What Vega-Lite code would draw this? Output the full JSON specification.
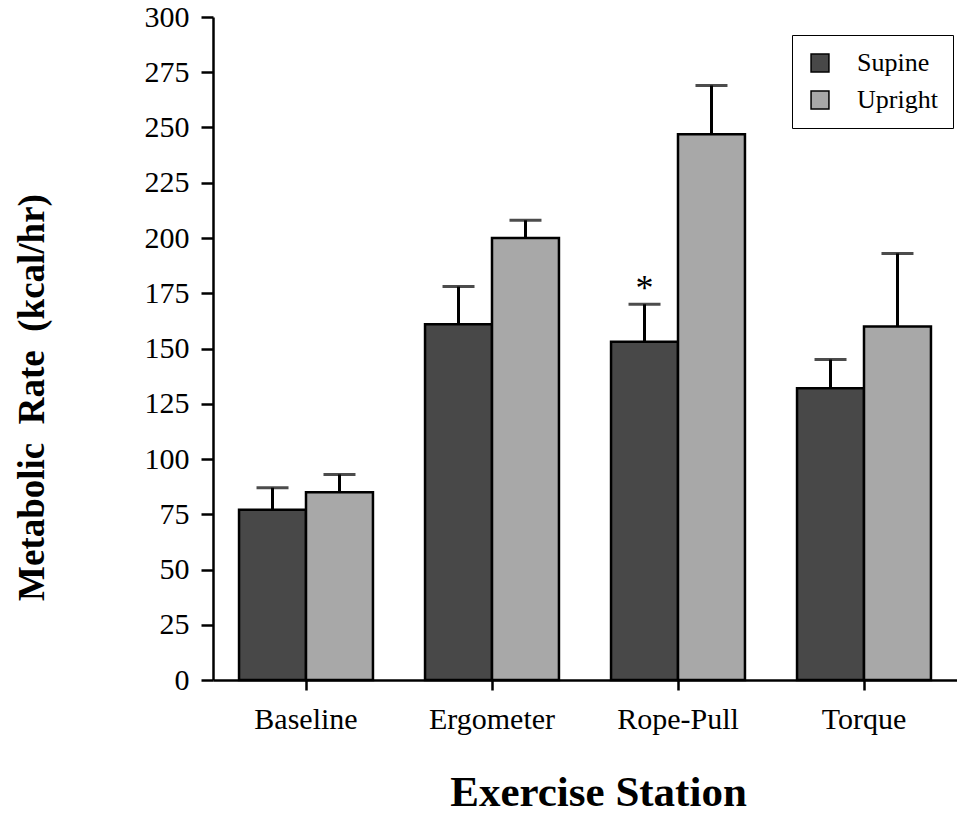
{
  "$schema": "https://vega.github.io/schema/vega-lite/v6.json",
  "width": 744,
  "height": 663,
  "autosize": {"type": "none"},
  "padding": {"left": 213, "top": 17, "right": 0, "bottom": 149},
  "background": "white",
  "config": {
    "view": {"stroke": null},
    "font": "Liberation Serif",
    "axis": {
      "domainColor": "black",
      "domainWidth": 2.5,
      "tickColor": "black",
      "tickWidth": 2.5,
      "labelColor": "black",
      "labelFont": "Liberation Serif",
      "labelFontSize": 30,
      "titleFont": "Liberation Serif",
      "titleFontWeight": "bold",
      "titleColor": "black",
      "grid": false
    }
  },
  "data": {
    "values": [
      {"station": "Baseline", "posture": "Supine", "value": 77, "err": 87, "star": ""},
      {"station": "Baseline", "posture": "Upright", "value": 85, "err": 93, "star": ""},
      {"station": "Ergometer", "posture": "Supine", "value": 161, "err": 178, "star": ""},
      {"station": "Ergometer", "posture": "Upright", "value": 200, "err": 208, "star": ""},
      {"station": "Rope-Pull", "posture": "Supine", "value": 153, "err": 170, "star": "*"},
      {"station": "Rope-Pull", "posture": "Upright", "value": 247, "err": 269, "star": ""},
      {"station": "Torque", "posture": "Supine", "value": 132, "err": 145, "star": ""},
      {"station": "Torque", "posture": "Upright", "value": 160, "err": 193, "star": ""}
    ]
  },
  "encoding": {
    "x": {
      "field": "station",
      "type": "nominal",
      "sort": ["Baseline", "Ergometer", "Rope-Pull", "Torque"],
      "scale": {"paddingInner": 0.28, "paddingOuter": 0.14},
      "axis": {
        "title": "Exercise Station",
        "labelAngle": 0,
        "tickSize": 10,
        "labelPadding": 14,
        "titleFontSize": 43,
        "titleX": 385,
        "titleY": 112,
        "titleAlign": "center",
        "titleBaseline": "middle"
      }
    },
    "xOffset": {
      "field": "posture",
      "type": "nominal",
      "scale": {"paddingInner": 0, "paddingOuter": 0}
    }
  },
  "layer": [
    {
      "mark": {"type": "bar", "stroke": "black", "strokeWidth": 2.5},
      "encoding": {
        "y": {
          "field": "value",
          "type": "quantitative",
          "scale": {"domain": [0, 300], "nice": false},
          "axis": {
            "title": "Metabolic \u00a0Rate \u00a0(kcal/hr)",
            "values": [0, 25, 50, 75, 100, 125, 150, 175, 200, 225, 250, 275, 300],
            "tickSize": 12,
            "labelPadding": 12,
            "titleFontSize": 37,
            "titleAngle": -90,
            "titleX": -162,
            "titleY": 380,
            "titleAlign": "center",
            "titleBaseline": "bottom"
          }
        },
        "fill": {
          "field": "posture",
          "type": "nominal",
          "scale": {"range": ["#484848", "#a8a8a8"]},
          "legend": {
            "title": null,
            "orient": "none",
            "legendX": 579,
            "legendY": 18,
            "symbolType": "square",
            "symbolSize": 320,
            "symbolStrokeColor": "black",
            "symbolStrokeWidth": 1.5,
            "labelFont": "Liberation Serif",
            "labelFontSize": 26,
            "labelColor": "black",
            "labelOffset": 24,
            "rowPadding": 11,
            "padding": 15,
            "strokeColor": "black",
            "fillColor": "white"
          }
        }
      }
    },
    {
      "mark": {"type": "rule", "color": "black", "strokeWidth": 3},
      "encoding": {
        "y": {"field": "value", "type": "quantitative"},
        "y2": {"field": "err"}
      }
    },
    {
      "mark": {"type": "tick", "color": "black", "size": 32, "thickness": 3},
      "encoding": {
        "y": {"field": "err", "type": "quantitative"}
      }
    },
    {
      "transform": [{"filter": "datum.star != ''"}],
      "mark": {"type": "text", "fontSize": 36, "font": "Liberation Serif", "color": "black", "baseline": "alphabetic", "dy": -4},
      "encoding": {
        "y": {"field": "err", "type": "quantitative"},
        "text": {"field": "star"}
      }
    }
  ]
}
